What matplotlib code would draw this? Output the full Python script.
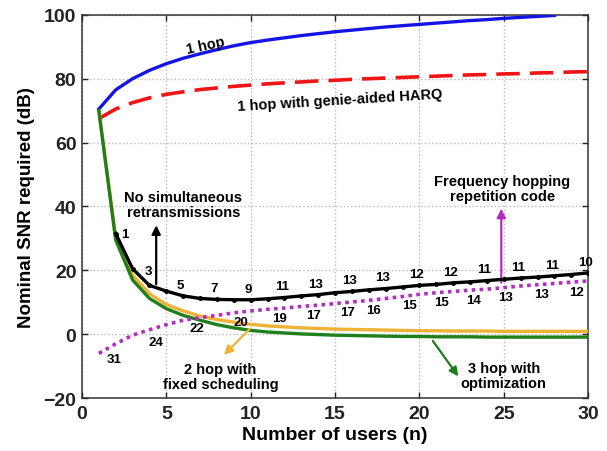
import numpy as np
import matplotlib
matplotlib.use('Agg')
import matplotlib.pyplot as plt

plt.rcParams['font.family'] = ['Liberation Sans', 'DejaVu Sans']
plt.rcParams['font.weight'] = 'bold'
plt.rcParams['axes.labelweight'] = 'bold'

# data
n_all = np.arange(1, 31)
n_blue = np.arange(1, 29)
n_black = np.arange(2, 31)

one_hop = [70.5, 76.5, 80.0, 82.6, 84.7, 86.4, 87.8, 89.1, 90.3, 91.3, 92.1, 92.8, 93.5, 94.1,
           94.7, 95.2, 95.7, 96.2, 96.6, 97.0, 97.4, 97.8, 98.2, 98.5, 98.9, 99.2, 99.5, 99.8]
harq = [67.5, 70.5, 72.5, 74.0, 75.1, 75.9, 76.6, 77.1, 77.6, 78.0, 78.4, 78.7, 79.0, 79.3, 79.5,
        79.8, 80.0, 80.2, 80.4, 80.6, 80.8, 81.0, 81.2, 81.3, 81.5, 81.6, 81.8, 81.9, 82.1, 82.2]
three_hop = [70, 29.5, 17.0, 11.2, 8.0, 5.9, 4.4, 3.0, 2.0, 1.2, 0.7, 0.4, 0.1, -0.1, -0.3,
             -0.4, -0.5, -0.6, -0.7, -0.7, -0.8, -0.8, -0.8, -0.9, -0.9, -0.9, -0.9, -0.9, -0.9, -0.9]
two_hop = [70, 30.5, 18.5, 12.7, 9.3, 7.3, 5.7, 4.6, 3.8, 3.1, 2.6, 2.3, 2.0, 1.8, 1.6,
           1.5, 1.4, 1.3, 1.2, 1.1, 1.1, 1.0, 1.0, 1.0, 0.9, 0.9, 0.9, 0.9, 0.9, 0.9]
no_simul = [31.5, 20.5, 15.3, 13.5, 12.0, 11.2, 10.9, 10.8, 10.8, 11.1, 11.5, 12.0, 12.4, 13.0,
            13.4, 13.9, 14.3, 14.8, 15.3, 15.6, 16.1, 16.4, 16.8, 17.2, 17.6, 17.9, 18.3, 18.7, 19.2]
freq_hop = [-6.0, -3.0, -0.3, 1.4, 3.0, 4.4, 5.2, 5.9, 6.7, 7.3, 7.8, 8.2, 8.7, 9.1, 9.6,
            10.1, 10.6, 11.2, 11.8, 12.5, 13.0, 13.4, 13.8, 14.1, 14.6, 15.1, 15.5, 15.9, 16.3, 16.7]

black_lab_n = [2, 4, 6, 8, 10, 12, 14, 16, 18, 20, 22, 24, 26, 28, 30]
black_lab = ['1', '3', '5', '7', '9', '11', '13', '13', '13', '12', '12', '11', '11', '11', '10']
purple_lab_x = [1.9, 4.4, 6.8, 9.4, 11.7, 13.7, 15.75, 17.3, 19.4, 21.3, 23.2, 25.1, 27.25, 29.3]
purple_lab = ['31', '24', '22', '20', '19', '17', '17', '16', '15', '15', '14', '13', '13', '12']

fig, ax = plt.subplots(figsize=(6.07, 4.52), dpi=100)
fig.subplots_adjust(left=0.135, right=0.969, bottom=0.117, top=0.965)

ax.plot(n_blue, one_hop, color='#1414e6', lw=2.4, zorder=3)
ax.plot(n_all, harq, color='#f01414', lw=2.6, dashes=(6.5, 2.8), zorder=3)
ax.plot(n_all, two_hop, color='#eeb236', lw=2.4, zorder=3)
ax.plot(n_all, three_hop, color='#1f7f1a', lw=2.4, zorder=3)
ax.plot(n_all, freq_hop, color='#b12fc0', lw=2.6, linestyle=(0, (1, 1.2)), zorder=4)
ax.plot(n_black, no_simul, color='black', lw=2.4, marker='o', ms=2.5, zorder=5)

# labels on black curve
for n, s in zip(black_lab_n, black_lab):
    y = no_simul[n - 2]
    if n == 2:
        ax.annotate(s, (n, y), xytext=(4, 0), textcoords='offset points',
                    ha='left', va='center', fontsize=9.5)
    elif n == 4:
        ax.annotate(s, (n, y), xytext=(-1, 10), textcoords='offset points',
                    ha='center', va='center', fontsize=9.5)
    else:
        ax.annotate(s, (n, y), xytext=(-2, 8), textcoords='offset points',
                    ha='center', va='center', fontsize=9.5)

# labels under frequency hopping curve
for x, s in zip(purple_lab_x, purple_lab):
    y = np.interp(x, n_all, freq_hop)
    dy = -10 if x < 5 else -7
    ax.annotate(s, (x, y), xytext=(0, dy), textcoords='offset points',
                ha='center', va='center', fontsize=9.5)

ax.text(7.35, 90.6, '1 hop', rotation=12, ha='center', va='center', fontsize=10.5)
ax.text(15.3, 73.4, '1 hop with genie-aided HARQ', rotation=3.5, ha='center', va='center',
        fontsize=10.5)

arrow = dict(arrowstyle='-|>', lw=1.6, mutation_scale=13)
ax.annotate('', xy=(4.4, 35.0), xytext=(4.4, 14.8), arrowprops=dict(arrow, color='black'))
ax.text(6.0, 40.6, 'No simultaneous\nretransmissions', ha='center', va='center',
        fontsize=10.5, linespacing=1.1)

ax.annotate('', xy=(24.85, 40.2), xytext=(24.85, 15.3), arrowprops=dict(arrow, color='#b12fc0'))
ax.text(24.9, 45.6, 'Frequency hopping\nrepetition code', ha='center', va='center',
        fontsize=10.5, linespacing=1.1)

ax.annotate('', xy=(8.3, -7.1), xytext=(10.06, 2.3), arrowprops=dict(arrow, color='#eeb236'))
ax.text(8.2, -13.1, '2 hop with\nfixed scheduling', ha='center', va='center',
        fontsize=10.5, linespacing=1.1)

ax.annotate('', xy=(22.4, -13.9), xytext=(20.7, -1.4), arrowprops=dict(arrow, color='#1f7f1a'))
ax.text(25.0, -13.0, '3 hop with\noptimization', ha='center', va='center',
        fontsize=10.5, linespacing=1.1)

ax.set_xlim(0, 30)
ax.set_ylim(-20, 100)
ax.set_xticks(np.arange(0, 31, 5))
ax.set_yticks(np.arange(-20, 101, 20))
ax.grid(True, linestyle=':', color='#bbbbbb', lw=1)
ax.tick_params(direction='in', top=True, right=True, length=4, width=1,
               labelsize=14, colors='#222222')
ax.tick_params(axis='x', pad=5)
ax.tick_params(axis='y', pad=4)
for sp in ax.spines.values():
    sp.set_color('#333333')
    sp.set_linewidth(1.1)

ax.set_xlabel('Number of users (n)', fontsize=14, labelpad=3)
ax.set_ylabel('Nominal SNR required (dB)', fontsize=13.5, labelpad=6)

plt.savefig('out.png', dpi=100)
